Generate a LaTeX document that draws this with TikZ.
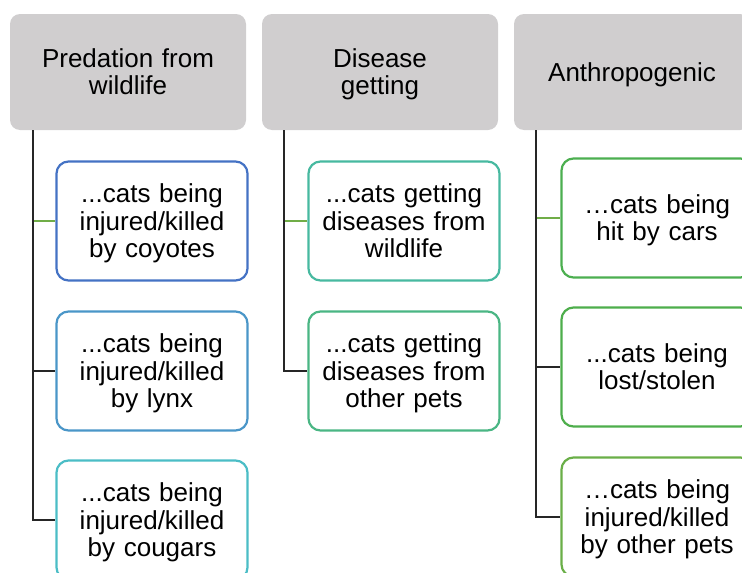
\documentclass[tikz,border=0pt]{standalone}
\usepackage{fontspec}
\setmainfont{Liberation Sans}
\definecolor{hdrfill}{HTML}{D0CECF}
\definecolor{cCoy}{HTML}{4472C4}
\definecolor{cLynx}{HTML}{4A96C8}
\definecolor{cCoug}{HTML}{4BBDC6}
\definecolor{cDisW}{HTML}{47B9A0}
\definecolor{cDisP}{HTML}{4AB684}
\definecolor{cCars}{HTML}{4CAF50}
\definecolor{cLost}{HTML}{4EAE4C}
\definecolor{cPets}{HTML}{6AAF48}
\definecolor{linkgreen}{HTML}{70AD47}
\begin{document}
\begin{tikzpicture}[x=1pt,y=-1pt,
  txtstrut/.style={execute at begin node={\rule{0pt}{0.93em}}, execute at end node={\rule[-0.22em]{0pt}{0pt}}},
  hdr/.style={rectangle, rounded corners=10pt, fill=hdrfill, minimum width=236pt, minimum height=116pt, align=center, text width=225pt, inner sep=0pt, font=\fontsize{26}{27.5}\selectfont, txtstrut},
  kid/.style={rectangle, draw=#1, line width=2.2pt, rounded corners=12pt, fill=white, minimum width=191pt, minimum height=119pt, align=center, text width=185pt, inner sep=0pt, font=\fontsize{26}{27.5}\selectfont, txtstrut},
  link/.style={line width=1.4pt, draw=black!85},
  glink/.style={line width=1.4pt, draw=linkgreen}]
\useasboundingbox (0,0) rectangle (742,573);
\clip (0,0) rectangle (742,573);
% headers
\node[hdr] (h1) at (128,72) {Predation from\\wildlife};
\node[hdr] (h2) at (380,72) {Disease\\getting};
\node[hdr] (h3) at (632,72) {Anthropogenic};
% children
\node[kid=cCoy]  (c11) at (152,221) {...cats being\\injured/killed\\by coyotes};
\node[kid=cLynx] (c12) at (152,371) {...cats being\\injured/killed\\by lynx};
\node[kid=cCoug] (c13) at (152,520) {...cats being\\injured/killed\\by cougars};
\node[kid=cDisW] (c21) at (404,221) {...cats getting\\diseases from\\wildlife};
\node[kid=cDisP] (c22) at (404,371) {...cats getting\\diseases from\\other pets};
\node[kid=cCars] (c31) at (657,218) {…cats being\\hit by cars};
\node[kid=cLost] (c32) at (657,367) {...cats being\\lost/stolen};
\node[kid=cPets] (c33) at (657,517) {…cats being\\injured/killed\\by other pets};
% connectors
\draw[glink] ([xshift=23pt]h1.south west) |- (c11.west);
\draw[glink] ([xshift=22pt]h2.south west) |- (c21.west);
\draw[glink] ([xshift=22pt]h3.south west) |- (c31.west);
\draw[link] ([xshift=23pt]h1.south west) |- (c12.west);
\draw[link] ([xshift=23pt]h1.south west) |- (c13.west);
\draw[link] ([xshift=22pt]h2.south west) |- (c22.west);
\draw[link] ([xshift=22pt]h3.south west) |- (c32.west);
\draw[link] ([xshift=22pt]h3.south west) |- (c33.west);
\end{tikzpicture}
\end{document}
